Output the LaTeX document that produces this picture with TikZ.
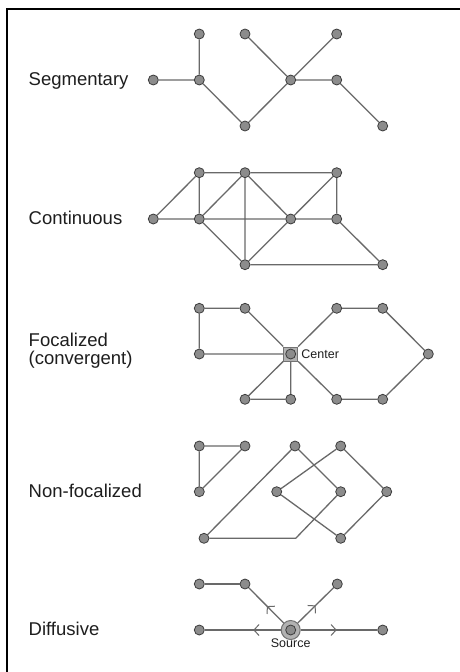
\documentclass[tikz,border=0pt]{standalone}
\usepackage{fontspec}
\setmainfont{Liberation Sans}
\usetikzlibrary{arrows.meta,decorations.markings}
\definecolor{edgegray}{RGB}{105,105,105}
\definecolor{nodefill}{RGB}{140,140,140}
\definecolor{nodeline}{RGB}{60,60,60}
\definecolor{hubfill}{RGB}{178,178,178}
\definecolor{hubline}{RGB}{115,115,115}
\definecolor{ink}{RGB}{30,30,30}
\begin{document}
\begin{tikzpicture}[x=1pt,y=-1pt,
  vtx/.style={circle,draw=nodeline,fill=nodefill,line width=0.8pt,minimum size=10pt,inner sep=0pt},
  link/.style={draw=edgegray,line width=1.3pt},
  title/.style={anchor=base west,inner sep=0pt,text=ink,font=\fontsize{18.5}{18}\selectfont,align=left},
  small/.style={inner sep=0pt,text=ink,font=\fontsize{12.5}{14}\selectfont},
  flow/.style={postaction={decorate},decoration={markings,
    mark=at position #1 with {\arrow{Straight Barb[length=5pt,width=11pt,line width=1pt]}}}},
]
\useasboundingbox (0,0) rectangle (460,672);
\fill[white] (0,0) rectangle (460,672);
% frame on the left and top
\draw[line width=2pt,line cap=rect] (7,672) -- (7,9) -- (460,9);

% ---------- Segmentary ----------
\node[title] (tseg) at (28.5,85) {Segmentary};
\node[vtx] (s1) at (199.3,34) {};
\node[vtx] (s2) at (245,34) {};
\node[vtx] (s3) at (336.7,34) {};
\node[vtx] (s4) at (153.3,80) {};
\node[vtx] (s5) at (199.3,80) {};
\node[vtx] (s6) at (290.7,80) {};
\node[vtx] (s7) at (336.7,80) {};
\node[vtx] (s8) at (245,126) {};
\node[vtx] (s9) at (382.7,126) {};
\path[link] (s1) -- (s5) (s4) -- (s5) (s5) -- (s8) (s8) -- (s6)
  (s2) -- (s6) (s6) -- (s3) (s6) -- (s7) (s7) -- (s9);

% ---------- Continuous ----------
\node[title] (tcon) at (28.5,224) {Continuous};
\node[vtx] (k1) at (199.3,172.7) {};
\node[vtx] (k2) at (245,172.7) {};
\node[vtx] (k3) at (336.7,172.7) {};
\node[vtx] (k4) at (153.3,219) {};
\node[vtx] (k5) at (199.3,219) {};
\node[vtx] (k6) at (290.7,219) {};
\node[vtx] (k7) at (336.7,219) {};
\node[vtx] (k8) at (245,264.7) {};
\node[vtx] (k9) at (382.7,264.7) {};
\path[link] (k1) -- (k2) (k2) -- (k3) (k4) -- (k1) (k1) -- (k5) (k5) -- (k2)
  (k2) -- (k8) (k2) -- (k6) (k6) -- (k3) (k3) -- (k7) (k4) -- (k5)
  (k5) -- (k6) (k6) -- (k7) (k5) -- (k8) (k8) -- (k6) (k7) -- (k9) (k8) -- (k9);

% ---------- Focalized ----------
\node[title] (tfoc) at (28.5,364) {Focalized\\(convergent)};
\node[vtx] (f1) at (199.3,308.3) {};
\node[vtx] (f2) at (245,308.3) {};
\node[vtx] (f3) at (336.7,308.3) {};
\node[vtx] (f4) at (382.7,308.3) {};
\node[vtx] (f5) at (199.3,354) {};
\node[rectangle,draw=hubline,fill=hubfill,line width=1pt,minimum size=14pt,inner sep=0pt] (cen) at (290.7,354) {};
\node[vtx] (cenv) at (290.7,354) {};
\node[vtx] (f6) at (428.3,354) {};
\node[vtx] (f7) at (245,399.3) {};
\node[vtx] (f8) at (290.7,399.3) {};
\node[vtx] (f9) at (336.7,399.3) {};
\node[vtx] (f10) at (382.7,399.3) {};
\node[small,anchor=west] (lcen) at (301.2,354) {Center};
\path[link] (f1) -- (f2) (f1) -- (f5) (f2) -- (cen) (f5) -- (cen) (cen) -- (f3)
  (f3) -- (f4) (f4) -- (f6) (f6) -- (f10) (f10) -- (f9) (f9) -- (cen)
  (cen) -- (f8) (cen) -- (f7) (f7) -- (f8);

% ---------- Non-focalized ----------
\node[title] (tnon) at (28.5,497) {Non-focalized};
\node[vtx] (n1) at (199.3,446) {};
\node[vtx] (n2) at (245,446) {};
\node[vtx] (n3) at (295,446) {};
\node[vtx] (n4) at (340.7,446) {};
\node[vtx] (n5) at (199.3,491.7) {};
\node[vtx] (n6) at (276.7,491.7) {};
\node[vtx] (n7) at (340.7,491.7) {};
\node[vtx] (n8) at (386.7,491.7) {};
\node[vtx] (n9) at (204,538.3) {};
\node[vtx] (n10) at (340.7,538.3) {};
\coordinate (nb) at (295.7,538.3);
\path[link] (n1) -- (n2) (n1) -- (n5) (n5) -- (n2) (n9) -- (n3) (n3) -- (n7)
  (n4) -- (n6) (n4) -- (n8) (n8) -- (n10) (n6) -- (n10);
\draw[link,line join=miter] (n9) -- (nb) -- (n7);

% ---------- Diffusive ----------
\node[title] (tdif) at (28.5,635.5) {Diffusive};
\node[circle,draw=hubline,fill=hubfill,line width=1pt,minimum size=19pt,inner sep=0pt] (src) at (290.7,630) {};
\node[vtx] (srcv) at (290.7,630) {};
\node[vtx] (d1) at (199.3,584) {};
\node[vtx] (d2) at (245,584) {};
\node[vtx] (d3) at (337.3,584) {};
\node[vtx] (d4) at (199.3,630) {};
\node[vtx] (d5) at (382.7,630) {};
\node[small,anchor=center] (lsrc) at (290.7,643.5) {Source};
\path[link] (d1) -- (d2);
\path[link,flow=0.48] (src) -- (d2);
\path[link,flow=0.5] (src) -- (d3);
\path[link,flow=0.36] (src) -- (d4);
\path[link,flow=0.47] (src) -- (d5);
\end{tikzpicture}
\end{document}
